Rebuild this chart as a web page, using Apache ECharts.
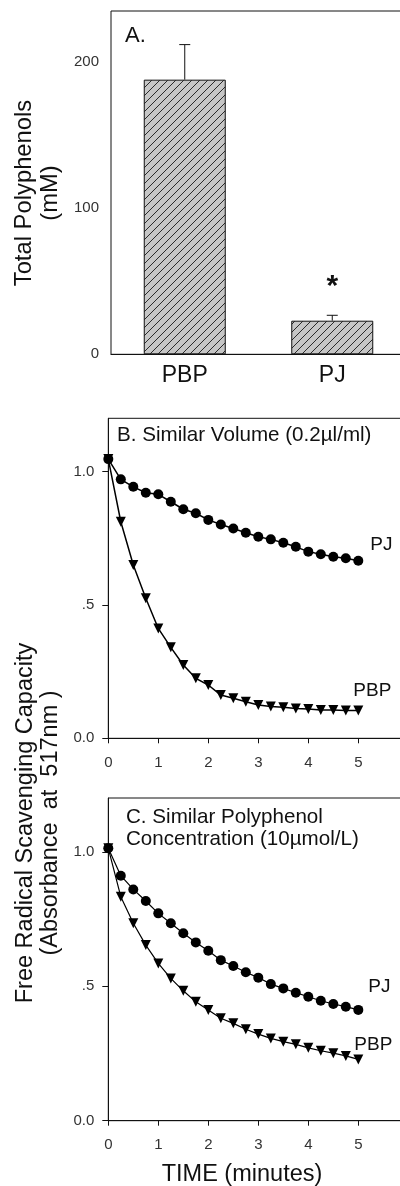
<!DOCTYPE html>
<html>
<head>
<meta charset="utf-8">
<script src="https://cdn.jsdelivr.net/npm/echarts@6/dist/echarts.min.js"></script>
<style>
html,body{margin:0;padding:0;background:#fff;}
#chart{width:400px;height:1186px;}
</style>
</head>
<body>
<div id="chart"></div>
<script>
// ---------- DATA ----------
const categoriesA = ['PBP', 'PJ'];
const polyphenolMean = [188, 23];
const polyphenolSD = [24, 3.7];
const sigMarks = ['', '*'];
const yTicksA = [0, 100, 200];

const timeMin = [0, 0.25, 0.5, 0.75, 1, 1.25, 1.5, 1.75, 2, 2.25, 2.5, 2.75, 3, 3.25, 3.5, 3.75, 4, 4.25, 4.5, 4.75, 5];
const pjB  = [1.047, 0.971, 0.943, 0.921, 0.915, 0.887, 0.859, 0.844, 0.819, 0.802, 0.787, 0.771, 0.756, 0.746, 0.733, 0.718, 0.700, 0.690, 0.681, 0.675, 0.666];
const pbpB = [1.047, 0.812, 0.650, 0.525, 0.412, 0.341, 0.275, 0.225, 0.200, 0.162, 0.150, 0.137, 0.125, 0.119, 0.116, 0.112, 0.110, 0.106, 0.106, 0.104, 0.104];
const pjC  = [1.013, 0.911, 0.860, 0.817, 0.771, 0.734, 0.697, 0.663, 0.632, 0.597, 0.575, 0.552, 0.532, 0.508, 0.492, 0.476, 0.461, 0.446, 0.434, 0.424, 0.412];
const pbpC = [1.013, 0.833, 0.734, 0.653, 0.585, 0.529, 0.483, 0.442, 0.412, 0.381, 0.362, 0.340, 0.322, 0.306, 0.294, 0.284, 0.271, 0.260, 0.251, 0.241, 0.228];
const yTicksBC = [0, 0.5, 1.0];
const yTickLabelsBC = ['0.0', '.5', '1.0'];

const FONT = '"Liberation Sans", Arial, Helvetica, sans-serif';

// hatch pattern for bars
const hatch = document.createElement('canvas');
hatch.width = 8; hatch.height = 8;
(function(){
  const c = hatch.getContext('2d');
  c.fillStyle = '#c6c6c6';
  c.fillRect(0, 0, 8, 8);
  c.strokeStyle = '#2a2a2a';
  c.lineWidth = 1;
  c.beginPath();
  c.moveTo(-1, 9); c.lineTo(9, -1);
  c.moveTo(-1, 1); c.lineTo(1, -1);
  c.moveTo(7, 9); c.lineTo(9, 7);
  c.stroke();
})();

const chart = echarts.init(document.getElementById('chart'), null, {renderer: 'canvas'});

const tickLabelStyle = {color: '#333', fontSize: 15, fontFamily: FONT};
const axisLineStyle = {lineStyle: {color: '#111', width: 1}};

function yLabelBC(v) {
  const i = yTicksBC.indexOf(v);
  return i >= 0 ? yTickLabelsBC[i] : '';
}

const gridBase = {show: true, borderColor: '#111', borderWidth: 1, containLabel: false, outerBoundsMode: 'none'};

const option = {
  animation: false,
  backgroundColor: '#fff',
  grid: [
    Object.assign({left: 111, top: 11, width: 295, height: 343.3}, gridBase),
    Object.assign({left: 108.3, top: 418.3, width: 300, height: 320}, gridBase),
    Object.assign({left: 108.3, top: 798, width: 300, height: 322.7}, gridBase)
  ],
  xAxis: [
    {gridIndex: 0, type: 'category', data: categoriesA, axisLine: axisLineStyle, axisTick: {show: false},
     axisLabel: {color: '#111', fontSize: 23, fontFamily: FONT, margin: 10}},
    {gridIndex: 1, type: 'value', min: 0, max: 6, interval: 1, splitLine: {show: false},
     axisLine: axisLineStyle, axisTick: {length: 5, lineStyle: {color: '#111'}},
     axisLabel: Object.assign({margin: 17, showMaxLabel: false}, tickLabelStyle)},
    {gridIndex: 2, type: 'value', min: 0, max: 6, interval: 1, splitLine: {show: false},
     axisLine: axisLineStyle, axisTick: {length: 5, lineStyle: {color: '#111'}},
     axisLabel: Object.assign({margin: 17, showMaxLabel: false}, tickLabelStyle)}
  ],
  yAxis: [
    {gridIndex: 0, type: 'value', min: 0, max: 235, splitLine: {show: false},
     axisLine: axisLineStyle,
     axisTick: {length: 6, lineStyle: {color: '#111'}, customValues: yTicksA},
     axisLabel: Object.assign({margin: 12, customValues: yTicksA}, tickLabelStyle)},
    {gridIndex: 1, type: 'value', min: 0, max: 1.2, splitLine: {show: false},
     axisLine: axisLineStyle,
     axisTick: {length: 6, lineStyle: {color: '#111'}, customValues: yTicksBC},
     axisLabel: Object.assign({margin: 14, customValues: yTicksBC, formatter: yLabelBC}, tickLabelStyle)},
    {gridIndex: 2, type: 'value', min: 0, max: 1.2, splitLine: {show: false},
     axisLine: axisLineStyle,
     axisTick: {length: 6, lineStyle: {color: '#111'}, customValues: yTicksBC},
     axisLabel: Object.assign({margin: 14, customValues: yTicksBC, formatter: yLabelBC}, tickLabelStyle)}
  ],
  series: [
    {type: 'bar', xAxisIndex: 0, yAxisIndex: 0, data: polyphenolMean, barWidth: 82,
     itemStyle: {color: {image: hatch, repeat: 'repeat'}, borderColor: '#111', borderWidth: 1}},
    {type: 'custom', xAxisIndex: 0, yAxisIndex: 0,
     data: categoriesA.map((c, i) => [i, polyphenolMean[i], polyphenolSD[i]]),
     renderItem: function (params, api) {
       const i = api.value(0), m = api.value(1), sd = api.value(2);
       const b = api.coord([i, m]);
       const t = api.coord([i, m + sd]);
       const children = [
         {type: 'line', shape: {x1: b[0], y1: b[1], x2: t[0], y2: t[1]}, style: {stroke: '#111', lineWidth: 1}},
         {type: 'line', shape: {x1: t[0] - 5.5, y1: t[1], x2: t[0] + 5.5, y2: t[1]}, style: {stroke: '#111', lineWidth: 1}}
       ];
       const mark = sigMarks[params.dataIndex];
       if (mark) {
         children.push({type: 'text', style: {text: mark, x: t[0], y: t[1] - 29, align: 'center', verticalAlign: 'middle',
           font: 'bold 30px ' + FONT, fill: '#111'}});
       }
       return {type: 'group', children: children};
     }, z: 5},
    {name: 'PBP', type: 'line', xAxisIndex: 1, yAxisIndex: 1, data: timeMin.map((t, i) => [t, pbpB[i]]),
     symbol: 'triangle', symbolRotate: 180, symbolSize: 10, lineStyle: {color: '#000', width: 1.5}, itemStyle: {color: '#000'}},
    {name: 'PJ', type: 'line', xAxisIndex: 1, yAxisIndex: 1, data: timeMin.map((t, i) => [t, pjB[i]]),
     symbol: 'circle', symbolSize: 10, lineStyle: {color: '#000', width: 1.5}, itemStyle: {color: '#000'}},
    {name: 'PBP', type: 'line', xAxisIndex: 2, yAxisIndex: 2, data: timeMin.map((t, i) => [t, pbpC[i]]),
     symbol: 'triangle', symbolRotate: 180, symbolSize: 10, lineStyle: {color: '#000', width: 1.2}, itemStyle: {color: '#000'}},
    {name: 'PJ', type: 'line', xAxisIndex: 2, yAxisIndex: 2, data: timeMin.map((t, i) => [t, pjC[i]]),
     symbol: 'circle', symbolSize: 10, lineStyle: {color: '#000', width: 1.2}, itemStyle: {color: '#000'}}
  ]
};
chart.setOption(option);

// annotations anchored to data end points
const last = timeMin.length - 1;
const endLabels = [
  {grid: 1, x: timeMin[last], y: pjB[last],  text: 'PJ',  dx: 12, dy: -16},
  {grid: 1, x: timeMin[last], y: pbpB[last], text: 'PBP', dx: -5, dy: -20},
  {grid: 2, x: timeMin[last], y: pjC[last],  text: 'PJ',  dx: 10, dy: -23},
  {grid: 2, x: timeMin[last], y: pbpC[last], text: 'PBP', dx: -4, dy: -15}
];
const graphics = endLabels.map(l => {
  const p = chart.convertToPixel({gridIndex: l.grid}, [l.x, l.y]);
  return {type: 'text', x: p[0] + l.dx, y: p[1] + l.dy,
    style: {text: l.text, font: '19px ' + FONT, fill: '#111', textAlign: 'left', textVerticalAlign: 'middle'}};
});
graphics.push(
  {type: 'text', x: 125, y: 36, style: {text: 'A.', font: '22px ' + FONT, fill: '#111', textAlign: 'left', textVerticalAlign: 'middle'}},
  {type: 'text', x: 117, y: 435, style: {text: 'B. Similar Volume (0.2µl/ml)', font: '20.6px ' + FONT, fill: '#111', textAlign: 'left', textVerticalAlign: 'middle'}},
  {type: 'text', x: 126, y: 828, style: {text: 'C. Similar Polyphenol\nConcentration (10µmol/L)', font: '20.6px ' + FONT, lineHeight: 22, fill: '#111', textAlign: 'left', textVerticalAlign: 'middle'}},
  {type: 'text', x: 37, y: 193, rotation: Math.PI / 2, style: {text: 'Total Polyphenols\n(mM)', font: '23.8px ' + FONT, lineHeight: 26, fill: '#111', textAlign: 'center', textVerticalAlign: 'middle'}},
  {type: 'text', x: 38, y: 823, rotation: Math.PI / 2, style: {text: 'Free Radical Scavenging Capacity\n(Absorbance  at  517nm )', font: '23.5px ' + FONT, lineHeight: 25, fill: '#111', textAlign: 'center', textVerticalAlign: 'middle'}},
  {type: 'text', x: 242, y: 1175, style: {text: 'TIME (minutes)', font: '23.5px ' + FONT, fill: '#111', textAlign: 'center', textVerticalAlign: 'middle'}}
);
chart.setOption({graphic: graphics});
</script>
</body>
</html>
